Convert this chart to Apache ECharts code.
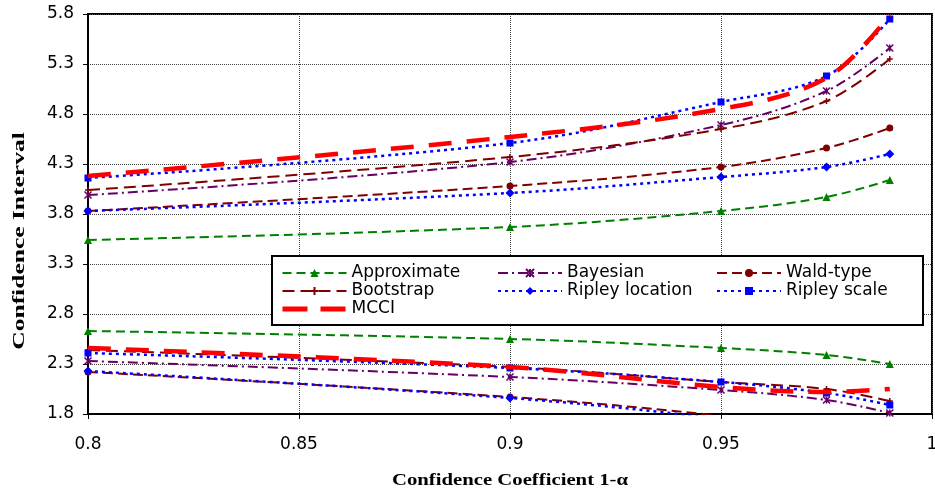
<!DOCTYPE html>
<html>
<head>
<meta charset="utf-8">
<script src="https://cdn.jsdelivr.net/npm/echarts@6/dist/echarts.min.js"></script>
<style>
  html, body { margin: 0; padding: 0; background: #fff; }
  #chart { width: 935px; height: 498px; }
</style>
</head>
<body>
<div id="chart"></div>
<script>
// Confidence coefficients (1 - alpha) at which each interval was computed
const coefficients = [0.8, 0.9, 0.95, 0.975, 0.99];

// Upper and lower interval bounds for each method
const approxUpper   = [3.54, 3.67, 3.83, 3.97, 4.14];
const approxLower   = [2.63, 2.55, 2.46, 2.39, 2.30];
const bayesUpper    = [3.99, 4.32, 4.69, 5.03, 5.46];
const bayesLower    = [2.33, 2.17, 2.04, 1.94, 1.81];
const waldUpper     = [3.83, 4.08, 4.27, 4.46, 4.66];
const waldLower     = [2.22, 1.97, 1.78, 1.62, 1.45];
const bootUpper     = [4.04, 4.37, 4.65, 4.93, 5.35];
const bootLower     = [2.44, 2.27, 2.12, 2.05, 1.93];
const ripLocUpper   = [3.83, 4.01, 4.17, 4.27, 4.40];
const ripLocLower   = [2.23, 1.96, 1.75, 1.58, 1.40];
const ripScaleUpper = [4.16, 4.51, 4.92, 5.18, 5.75];
const ripScaleLower = [2.41, 2.26, 2.12, 2.01, 1.89];
const mcciUpper     = [4.18, 4.57, 4.85, 5.16, 5.79];
const mcciLower     = [2.46, 2.27, 2.07, 2.02, 2.05];

// Legend columns
const legendCol1 = ['Approximate', 'Bootstrap', 'MCCI'];
const legendCol2 = ['Bayesian', 'Ripley location'];
const legendCol3 = ['Wald-type', 'Ripley scale'];

const xTitle = 'Confidence Coefficient 1-\u03b1';
const yTitle = 'Confidence Interval';

const starPath = 'path://M0,0L10,10M10,0L0,10M5,0L5,10';
const plusPath = 'path://M0,5L10,5M5,0L5,10';

const methods = [
  { name: 'Approximate', upper: approxUpper, lower: approxLower, color: '#008000',
    dash: [9, 5], width: 2, symbol: 'triangle', size: 8 },
  { name: 'Bayesian', upper: bayesUpper, lower: bayesLower, color: '#660066',
    dash: [10, 4, 2, 4], width: 2, symbol: starPath, size: 7, stroke: true },
  { name: 'Wald-type', upper: waldUpper, lower: waldLower, color: '#800000',
    dash: [10, 5], width: 2, symbol: 'circle', size: 7 },
  { name: 'Bootstrap', upper: bootUpper, lower: bootLower, color: '#800000',
    dash: [12, 6], width: 2, symbol: plusPath, size: 6, stroke: true },
  { name: 'Ripley location', upper: ripLocUpper, lower: ripLocLower, color: '#0000FF',
    dash: [3, 4], width: 2.5, symbol: 'diamond', size: 9 },
  { name: 'Ripley scale', upper: ripScaleUpper, lower: ripScaleLower, color: '#0000FF',
    dash: [3, 4], width: 2.5, symbol: 'rect', size: 7 },
  { name: 'MCCI', upper: mcciUpper, lower: mcciLower, color: '#FF0000',
    dash: [23, 15], width: 4.5, symbol: 'none', size: 0 }
];

function pairs(values) {
  return coefficients.map((c, i) => [c, values[i]]);
}

const series = [];
methods.forEach(m => {
  [m.upper, m.lower].forEach(vals => {
    series.push({
      name: m.name,
      type: 'line',
      data: pairs(vals),
      smooth: 0.35,
      clip: true,
      symbol: m.symbol,
      symbolSize: m.size,
      showSymbol: m.symbol !== 'none',
      lineStyle: { color: m.color, width: m.width, type: m.dash },
      itemStyle: m.stroke
        ? { color: m.color, borderColor: m.color, borderWidth: 1.5 }
        : { color: m.color, borderWidth: 0 },
      emphasis: { disabled: true },
      z: m.name === 'MCCI' ? 3 : 2
    });
  });
});

// The MCCI line has no marker, so its legend entry shows the bare thick dash
function legendItems(names) {
  return names.map(n => n === 'MCCI'
    ? { name: n,
        itemStyle: { color: 'transparent', borderWidth: 0 },
        lineStyle: { color: '#FF0000', width: 5, type: [25, 13] } }
    : n);
}

const sansFont = 'DejaVu Sans, Verdana, sans-serif';
const serifFont = 'Liberation Serif, Times New Roman, serif';

const legendBase = {
  orient: 'vertical',
  top: 264,
  padding: 0,
  itemWidth: 64,
  itemHeight: 10,
  itemGap: 0,
  selectedMode: false,
  z: 10,
  textStyle: { fontFamily: sansFont, fontSize: 17, color: '#000', lineHeight: 18 }
};

const chart = echarts.init(document.getElementById('chart'), null, { renderer: 'canvas' });
chart.setOption({
  animation: false,
  backgroundColor: '#fff',
  grid: {
    left: 88, right: 3, top: 14, bottom: 84,
    containLabel: false,
    outerBoundsMode: 'none',
    show: true, borderColor: '#000', borderWidth: 2, backgroundColor: 'transparent'
  },
  xAxis: {
    type: 'value',
    min: 0.8, max: 1, interval: 0.05,
    axisLine: { onZero: false, lineStyle: { color: '#000', width: 2 } },
    axisTick: { show: true, inside: false, length: 5, lineStyle: { color: '#000' } },
    axisLabel: { margin: 22, fontFamily: sansFont, fontSize: 17, color: '#000' },
    splitLine: { show: true, lineStyle: { color: '#444', type: 'dotted', width: 1 } }
  },
  yAxis: {
    type: 'value',
    min: 1.8, max: 5.8, interval: 0.5,
    axisLine: { show: true, lineStyle: { color: '#000', width: 2 } },
    axisTick: { show: true, inside: false, length: 5, lineStyle: { color: '#000' } },
    axisLabel: { margin: 14, fontFamily: sansFont, fontSize: 17, color: '#000',
      formatter: v => v.toFixed(1) },
    splitLine: { show: true, lineStyle: { color: '#444', type: 'dotted', width: 1 } }
  },
  legend: [
    Object.assign({}, legendBase, { left: 280, data: legendItems(legendCol1) }),
    Object.assign({}, legendBase, { left: 497, data: legendItems(legendCol2) }),
    Object.assign({}, legendBase, { left: 716, data: legendItems(legendCol3) })
  ],
  graphic: [
    {
      type: 'rect',
      z: 5,
      shape: { x: 272, y: 256, width: 651, height: 69 },
      style: { fill: '#fff', stroke: '#000', lineWidth: 2 }
    },
    {
      // axis titles, widened to the chart's stretched lettering
      type: 'text',
      x: 510, y: 481,
      scaleX: 1.22,
      style: { text: xTitle, font: 'bold 17px ' + serifFont, fill: '#000',
        align: 'center', verticalAlign: 'middle' }
    },
    {
      type: 'text',
      x: 20, y: 241,
      rotation: Math.PI / 2,
      scaleX: 1.5,
      style: { text: yTitle, font: 'bold 17px ' + serifFont, fill: '#000',
        align: 'center', verticalAlign: 'middle' }
    }
  ],
  series: series
});
</script>
</body>
</html>
